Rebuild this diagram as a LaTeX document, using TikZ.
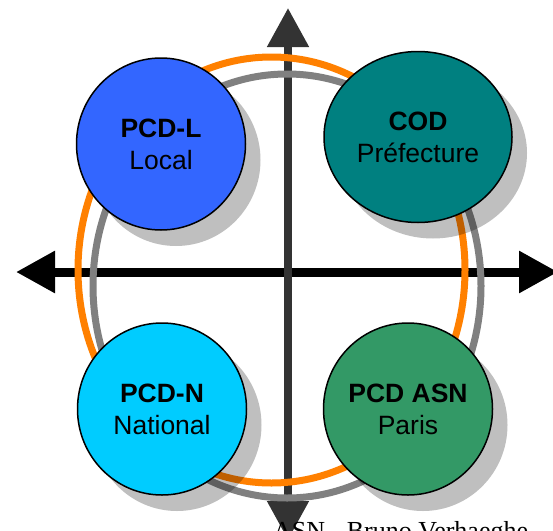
\documentclass[tikz,border=0pt]{standalone}
\usepackage{fontspec}
\setmainfont{Liberation Sans}
\newfontfamily\creditfont{Liberation Serif}
\usetikzlibrary{arrows.meta, shapes.geometric, shadows}

\definecolor{localblue}{HTML}{3366FF}
\definecolor{codteal}{HTML}{008080}
\definecolor{nationalcyan}{HTML}{00CCFF}
\definecolor{asngreen}{HTML}{339966}
\definecolor{ringorange}{HTML}{FF8000}
\definecolor{ringgray}{HTML}{808080}
\definecolor{axisgray}{HTML}{333333}

\begin{document}
\begin{tikzpicture}[x=1pt,y=-1pt,
		bigtip/.style = {{Triangle[width=40pt,length=39pt]}-{Triangle[width=40pt,length=39pt]}},
		ring/.style = {line width=7pt},
		disc/.style = {ellipse,draw,line width=1.5pt,inner sep=0pt,align=center,
			minimum width=169pt,minimum height=172pt,
			font=\fontsize{26.5}{32}\selectfont,
			drop shadow={shadow xshift=15pt,shadow yshift=-16pt,fill=black,opacity=0.25}}]
		\clip (0,0) rectangle (553,530);
		% axes
		\coordinate (west) at (16,272);
		\coordinate (east) at (558,272);
		\coordinate (north) at (288,8);
		\coordinate (south) at (288,540);
		\draw [bigtip, line width=9pt, black] (west) -- (east);
		\draw [bigtip, line width=8pt, axisgray] (south) -- (north);
		% rings
		\draw [ring, ringorange] (271.5,270) ellipse [x radius=193.5, y radius=213];
		\draw [ring, ringgray] (287,286) ellipse [x radius=194, y radius=212];
		% discs
		\node [disc, fill=localblue] (local) at (161,144) {\textbf{PCD-L}\\Local};
		\node [disc, fill=codteal, minimum width=188pt, minimum height=171pt] (prefecture) at (418,137) {\textbf{COD}\\Préfecture};
		\node [disc, fill=nationalcyan] (national) at (162,409) {\textbf{PCD-N}\\National};
		\node [disc, fill=asngreen] (paris) at (408,409) {\textbf{PCD ASN}\\Paris};
		\node [anchor=base west, inner sep=0pt, font=\creditfont\fontsize{26}{30}\selectfont] (credit) at (273,539) {ASN - Bruno Verhaeghe};
	\end{tikzpicture}
\end{document}
